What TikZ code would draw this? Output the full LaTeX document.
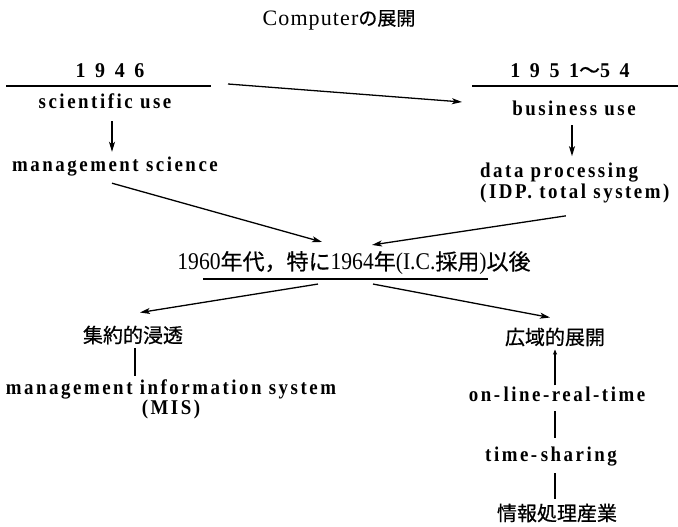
\documentclass[tikz,border=0pt]{standalone}
\usepackage{fontspec}
\setmainfont{Liberation Serif}
\newfontfamily\jp[FakeBold=0.6]{Noto Sans CJK JP}
\newfontfamily\spaced[LetterSpace=12,FakeStretch=0.9]{Liberation Serif Bold}
\newfontfamily\yearfont[LetterSpace=22,FakeStretch=0.95]{Liberation Serif Bold}
\newfontfamily\midfont[FakeStretch=0.9]{Liberation Serif}
\newfontfamily\titlefont[LetterSpace=5]{Liberation Serif}
\usetikzlibrary{arrows.meta,calc}
\begin{document}
\begin{tikzpicture}[x=1pt,y=-1pt,
  lat/.style={font=\spaced\fontsize{21}{19}\selectfont, inner sep=1pt, text height=14.5pt, text depth=4.5pt},
  lat2/.style={font=\spaced\fontsize{21}{19}\selectfont, inner sep=1pt},
  yr/.style={font=\yearfont\fontsize{21}{19}\selectfont, inner sep=1pt},
  jpn/.style={font=\jp\fontsize{20}{24}\selectfont, inner sep=1pt},
  arr/.style={line width=1.3pt, -{Stealth[length=10pt,width=6pt,inset=2.5pt]}},
  sarr/.style={line width=1.3pt, -{Stealth[length=5pt,width=4pt,inset=1pt]}},
  ln/.style={line width=1.3pt},
  rule/.style={line width=1.5pt}]
\useasboundingbox (0,0) rectangle (678,527);

% title
\node[font=\titlefont\fontsize{22}{24}\selectfont, inner sep=1pt] (title) at (339,20) {Computer{\jp\fontsize{19}{22}\selectfont の展開}};

% left column top
\node[yr] (y46) at (110,71) {1 9 4 6};
\coordinate (r46w) at (6,86);
\coordinate (r46e) at (211,86);
\draw[rule] (r46w) -- (r46e);
\node[lat] (sci) at (105,104) {scientific use};
\node[lat] (ms) at (115,166) {management science};

% right column top
\node[yr] (y51) at (570,71) {1 9 5 1{\jp ～}5 4};
\coordinate (r51w) at (472,86);
\coordinate (r51e) at (678,86);
\draw[rule] (r51w) -- (r51e);
\node[lat] (bus) at (574,111) {business use};
\node[lat2, align=left, anchor=west] (dp) at (479,183) {data processing\\(IDP. total system)};

% middle
\node[font=\midfont\fontsize{24}{26}\selectfont, inner sep=1pt] (mid) at (354,263)
  {1960{\jp\fontsize{22}{24}\selectfont 年代，特に}1964{\jp\fontsize{22}{24}\selectfont 年}(I.C.{\jp\fontsize{22}{24}\selectfont 採用}){\jp\fontsize{22}{24}\selectfont 以後}};
\coordinate (ulw) at (203,279);
\coordinate (ule) at (488,279);
\draw[rule] (ulw) -- (ule);

% bottom left
\node[jpn] (shu) at (133,335) {集約的浸透};
\node[lat2, align=center] (mis) at (171,399) {management information system\\(MIS)};

% bottom right
\node[jpn] (koi) at (555,337) {広域的展開};
\node[lat] (onl) at (557,396) {on-\,line-real-time};
\node[lat] (ts) at (551,456) {time-\,sharing};
\node[jpn] (info) at (557,513) {情報処理産業};

% connectors
\draw[arr] ($(sci.south)+(7,6.5)$) -- ($(sci.south |- ms.north)+(7,-3.5)$);
\draw[arr] ($(r46e)+(17,-2)$) -- ($(r51w)+(-10,16)$);
\draw[arr] ($(bus.south)+(-2,3.5)$) -- ($(bus.south |- dp.north)+(-2,-6)$);
\draw[arr] ($(ms.south)+(-3,6.5)$) -- ($(mid.north)+(-32,-8)$);
\draw[arr] ($(dp.south)+(-9,12)$) -- ($(mid.north)+(18,-5)$);
\draw[arr] ($(mid.south)+(-36,8)$) -- ($(shu.north)+(7,-12)$);
\draw[arr] ($(mid.south)+(19,8)$) -- ($(koi.north)+(-5,-9)$);
\draw[ln] ($(shu.south)+(2,3)$) -- ($(shu.south |- mis.north)+(2,-2)$);
\draw[sarr] ($(onl.north)+(-2,0)$) -- ($(onl.north |- koi.south)+(-2,2)$);
\draw[ln] ($(onl.south)+(-2,4.5)$) -- ($(onl.south |- ts.north)+(-2,-7.5)$);
\draw[ln] ($(onl.south |- ts.south)+(-2,6.5)$) -- ($(onl.south |- info.north)+(-2,-4)$);
\end{tikzpicture}
\end{document}
